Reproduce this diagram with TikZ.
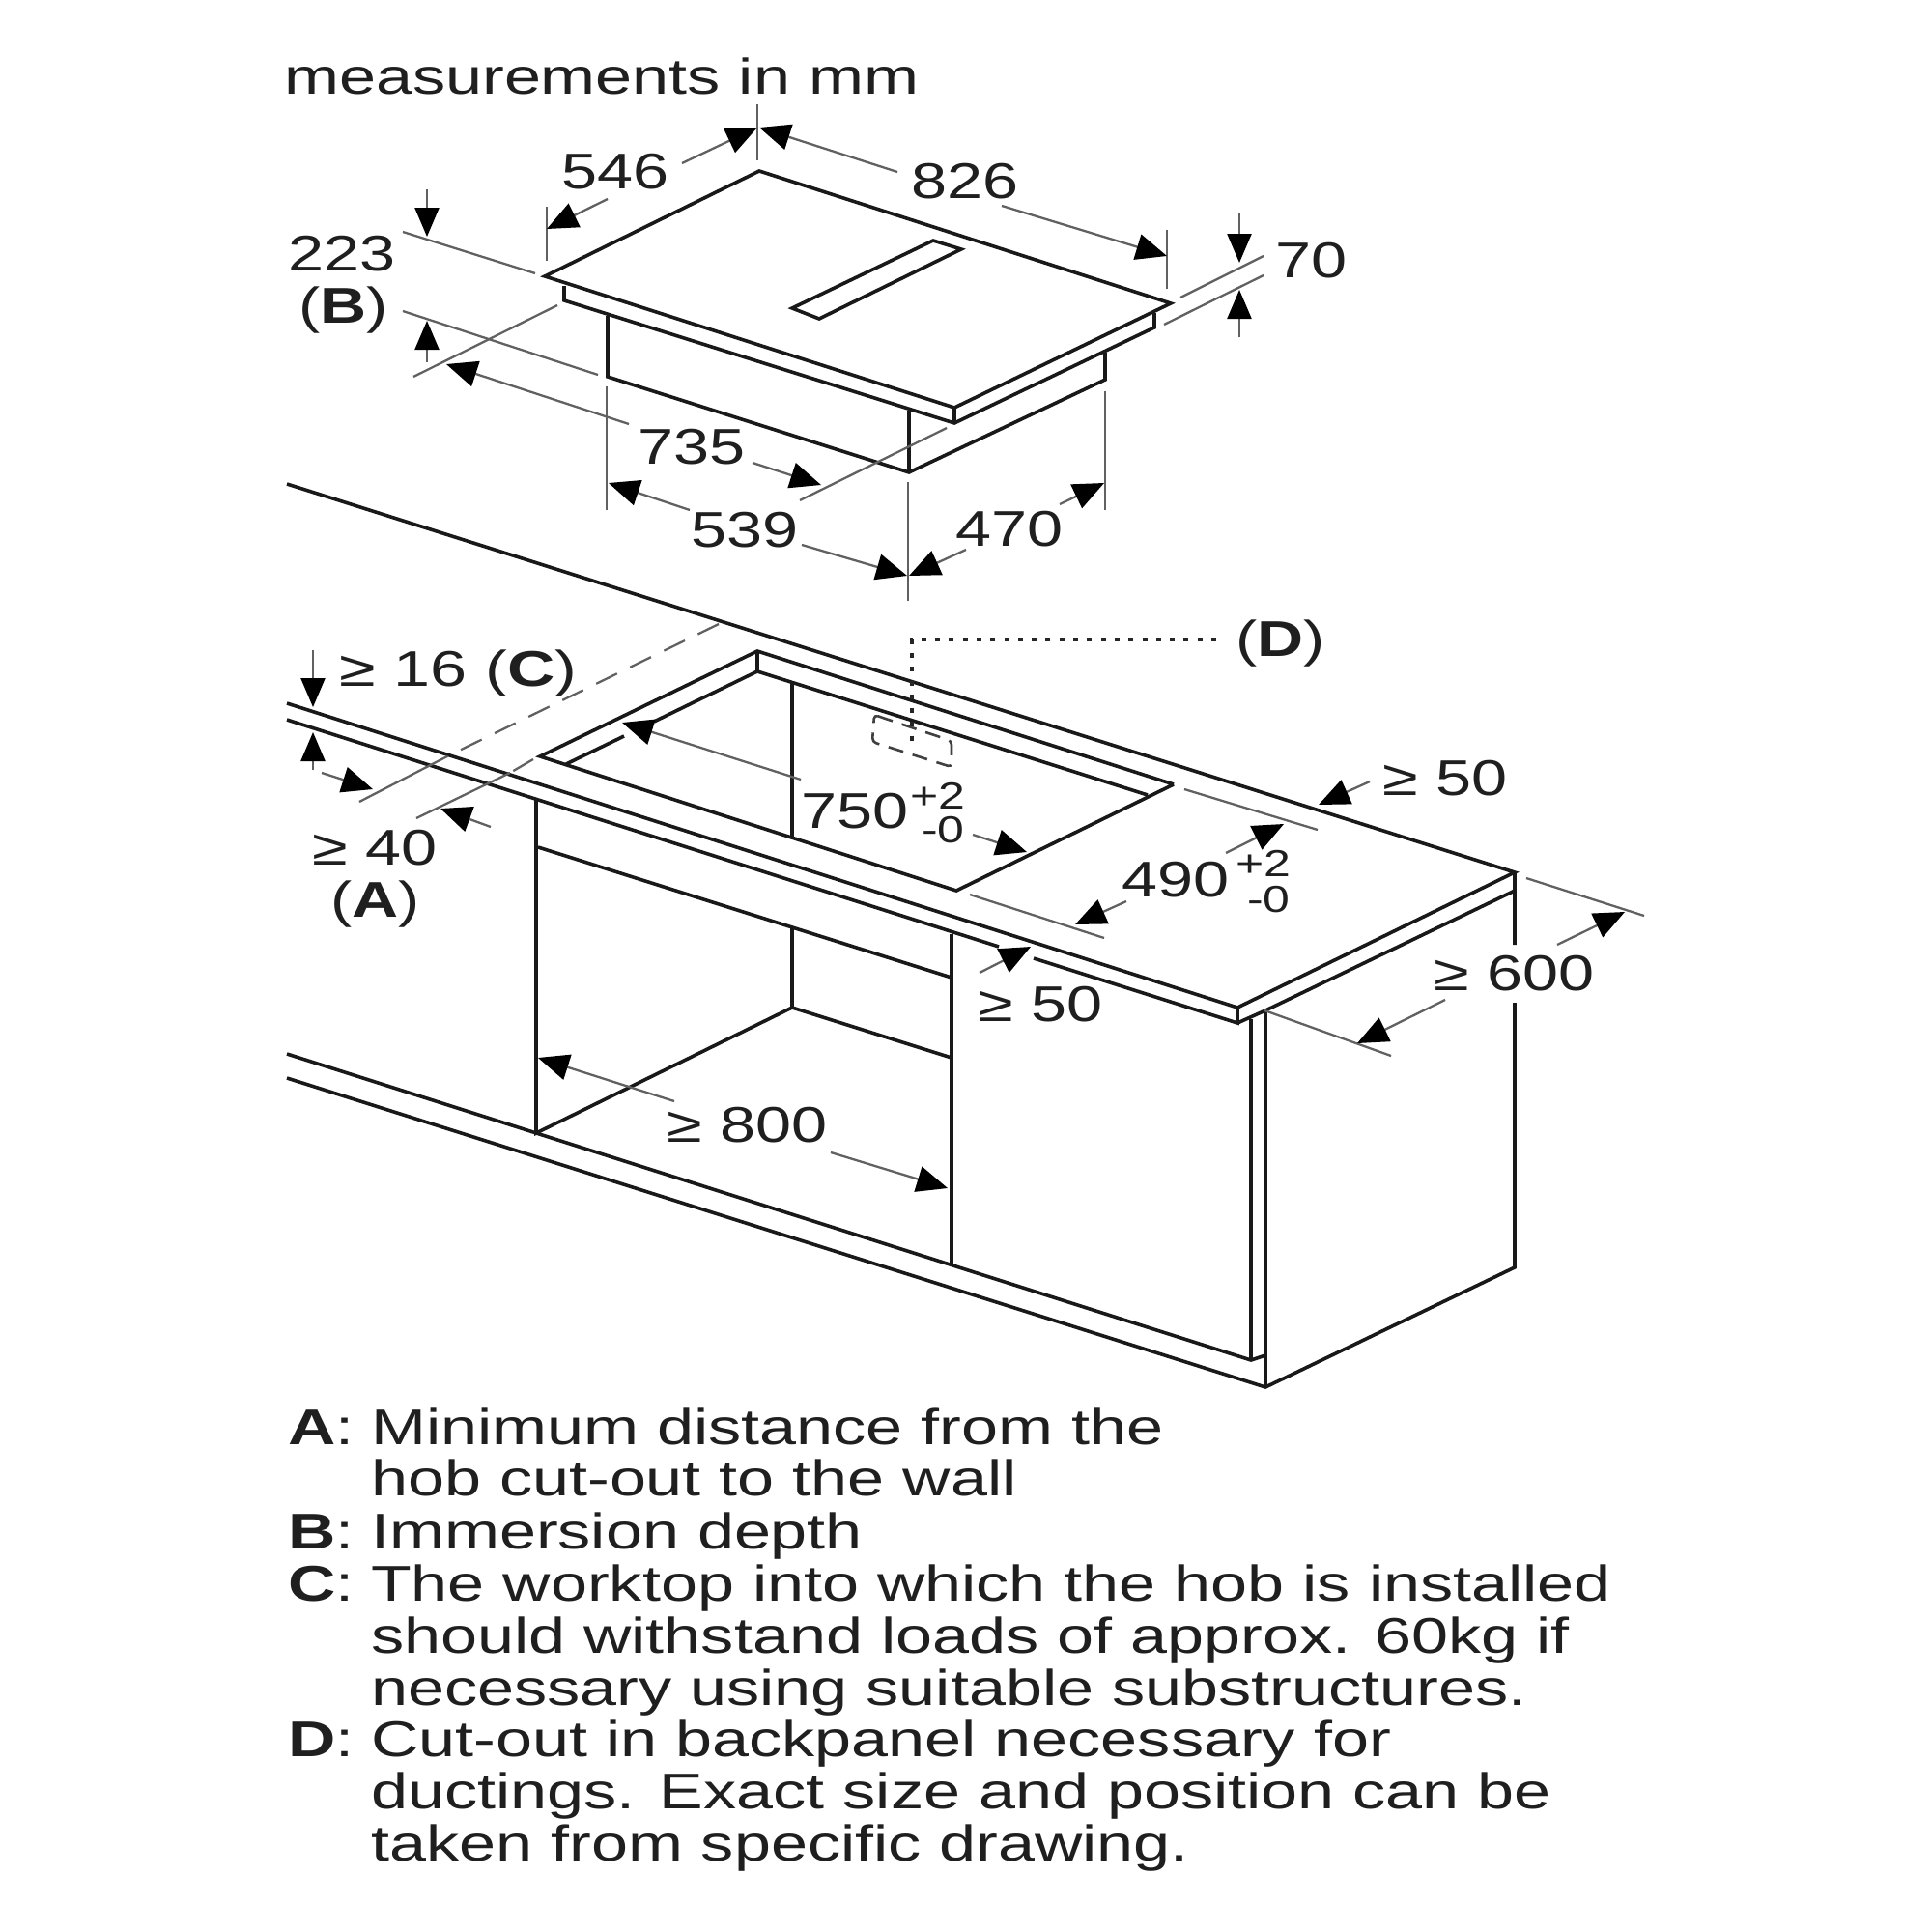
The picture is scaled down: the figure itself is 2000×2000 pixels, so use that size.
\documentclass[tikz,border=0pt]{standalone}
\usepackage{fontspec}
\setmainfont[FakeStretch=1.28]{Liberation Sans}
\newfontfamily\notefont[FakeStretch=1.314]{Liberation Sans}
\usetikzlibrary{arrows.meta}

\tikzset{
  part/.style={line width=3.6pt,black!90,line join=miter},
  dimline/.style={line width=2.3pt,black!62},
  dimarrow/.style={dimline,-{Triangle[length=32pt,width=27pt,black]}},
  updim/.style={dimline,-{Triangle[length=30pt,width=25pt,black]}},
  lbl/.style={anchor=base west,inner sep=0pt,text=black!88,font=\fontsize{52}{54}\selectfont},
  sublbl/.style={lbl,font=\fontsize{39}{40}\selectfont},
  notelbl/.style={lbl,font=\notefont\fontsize{52}{54}\selectfont}
}

\begin{document}
\begin{tikzpicture}[x=1pt,y=-1pt]
\useasboundingbox (0,0) rectangle (2000,2000);

\node[notelbl] (title) at (294,97) {measurements in mm};

% hob
\draw[part] (564,286) -- (786,177) -- (1212,314) -- (988,422) -- cycle;
\draw[part] (966,249) -- (995,258) -- (848,330) -- (820,319) -- cycle;
\draw[part] (584,296) -- (584,311) -- (988,438) -- (1195,339) -- (1195,324);
\draw[part] (988,422) -- (988,438);
\draw[part] (629,327) -- (629,390) -- (941,489) -- (1144,393) -- (1144,365);
\draw[part] (941,425) -- (941,489);

\draw[dimline] (784,108) -- (784,166);
\draw[dimline] (566,214) -- (566,270);
\draw[dimline] (1208,238) -- (1208,299);
\draw[dimline] (1222,308) -- (1308,265);
\draw[dimline] (1205,336) -- (1308,285);
\draw[dimline] (417,240) -- (554,283);
\draw[dimline] (417,322) -- (619,388);
\draw[dimline] (428,390) -- (577,316);
\draw[dimline] (828,518) -- (980,443);
\draw[dimline] (628,400) -- (628,528);
\draw[dimline] (940,499) -- (940,622);
\draw[dimline] (1144,405) -- (1144,528);

\draw[dimarrow] (706,169) -- (784,132);
\draw[dimarrow] (629,206) -- (566,237);
\draw[dimarrow] (929,178) -- (786,132);
\draw[dimarrow] (1037,213) -- (1208,265);
\draw[updim] (1283,221) -- (1283,272);
\draw[updim] (1283,349) -- (1283,300);
\draw[updim] (442,196) -- (442,245);
\draw[updim] (442,375) -- (442,332);
\draw[dimarrow] (651,439) -- (462,377);
\draw[dimarrow] (779,479) -- (850,502);
\draw[dimarrow] (714,528) -- (630,500);
\draw[dimarrow] (830,564) -- (939,596);
\draw[dimarrow] (1000,569) -- (941,596);
\draw[dimarrow] (1097,522) -- (1143,500);

\node[lbl] (w546) at (581,195) {546};
\node[lbl] (w826) at (943,205) {826};
\node[lbl] (d223) at (298,280) {223};
\node[lbl] (noteb) at (309,334) {(\textbf{B})};
\node[lbl] (h70) at (1320,287) {70};
\node[lbl] (w735) at (660,480) {735};
\node[lbl] (w539) at (715,566) {539};
\node[lbl] (d470) at (989,565) {470};

% worktop
\draw[part] (297,501) -- (1568,903) -- (1281,1043) -- (297,728);
\draw[part] (297,745) -- (1034,980);
\draw[part] (1070,992) -- (1281,1059) -- (1281,1043);
\draw[part] (1281,1059) -- (1310,1046) -- (1568,922) -- (1568,978);
\draw[part] (1568,903) -- (1568,922);
\draw[part] (1568,1038) -- (1568,1312) -- (1310,1436) -- (297,1116);
\draw[part] (297,1091) -- (1295,1408) -- (1310,1403);
\draw[part] (1295,1055) -- (1295,1408);
\draw[part] (1310,1048) -- (1310,1436);

% cut-out
\draw[part] (1215,812) -- (784,674) -- (559,783) -- (990,922) -- (1215,812);
\draw[part] (1188,823) -- (784,695) -- (677,747);
\draw[part] (646,762) -- (586,791);
\draw[part] (784,674) -- (784,695);
\draw[part] (820,705) -- (820,867);

% cabinet
\draw[part] (555,828) -- (555,1173) -- (820,1043) -- (985,1095);
\draw[part] (820,960) -- (820,1043);
\draw[part] (985,967) -- (985,1309);
\draw[part] (557,877) -- (985,1012);

\draw[dimline,dash pattern=on 24pt off 15pt] (744,646) -- (463,783);
\draw[dimline] (463,783) -- (372,830);
\draw[dimline,dash pattern=on 24pt off 15pt] (552,786) -- (528,800);
\draw[dimline] (528,800) -- (431,847);
\draw[dimline] (1226,817) -- (1364,859);
\draw[dimline] (1004,926) -- (1143,971);
\draw[dimline] (1580,909) -- (1702,948);
\draw[dimline] (1309,1046) -- (1440,1093);

\draw[line width=2.6pt,black!75,rounded corners=4pt,dash pattern=on 16pt off 10pt]
(905,740) -- (985,767) -- (985,794) -- (903,768) -- cycle;
\draw[line width=4pt,black!85,dash pattern=on 5pt off 9.3pt]
(1259,662) -- (944,662) -- (944,773);

\draw[updim] (324,673) -- (324,732);
\draw[updim] (324,797) -- (324,758);
\draw[dimarrow] (333,800) -- (386,817);
\draw[dimarrow] (508,856) -- (456,837);
\draw[dimarrow] (829,807) -- (644,748);
\draw[dimarrow] (1007,864) -- (1063,882);
\draw[dimarrow] (1418,809) -- (1365,833);
\draw[dimarrow] (1269,883) -- (1329,853);
\draw[dimarrow] (1166,933) -- (1113,957);
\draw[dimarrow] (1014,1007) -- (1067,980);
\draw[dimarrow] (1612,978) -- (1682,944);
\draw[dimarrow] (1496,1035) -- (1405,1080);
\draw[dimarrow] (698,1140) -- (557,1095);
\draw[dimarrow] (860,1193) -- (981,1230);

\node[notelbl] (t16) at (351,710) {≥ 16 (\textbf{C})};
\node[lbl] (s40) at (323,895) {≥ 40};
\node[lbl] (notea) at (342,949) {(\textbf{A})};
\node[lbl] (noted) at (1279,679) {(\textbf{D})};
\node[lbl] (w750) at (829,857) {750};
\node[sublbl] (w750up) at (942,837) {+2};
\node[sublbl] (w750lo) at (954,872) {-0};
\node[lbl] (d490) at (1161,928) {490};
\node[sublbl] (d490up) at (1279,907) {+2};
\node[sublbl] (d490lo) at (1291,944) {-0};
\node[lbl] (b50) at (1431,823) {≥ 50};
\node[lbl] (f50) at (1012,1057) {≥ 50};
\node[lbl] (d600) at (1484,1025) {≥ 600};
\node[lbl] (w800) at (690,1182) {≥ 800};

% notes
\node[notelbl] (keya) at (298,1495) {\textbf{A}:};
\node[notelbl] (keyb) at (298,1603) {\textbf{B}:};
\node[notelbl] (keyc) at (298,1657) {\textbf{C}:};
\node[notelbl] (keyd) at (298,1818) {\textbf{D}:};
\foreach \ypos/\note in {
  1495/{Minimum distance from the},
  1548/{hob cut-out to the wall},
  1603/{Immersion depth},
  1657/{The worktop into which the hob is installed},
  1711/{should withstand loads of approx. 60kg if},
  1765/{necessary using suitable substructures.},
  1818/{Cut-out in backpanel necessary for},
  1872/{ductings. Exact size and position can be},
  1926/{taken from specific drawing.}}
  \node[notelbl] (line\ypos) at (384,\ypos) {\note};
\end{tikzpicture}
\end{document}
